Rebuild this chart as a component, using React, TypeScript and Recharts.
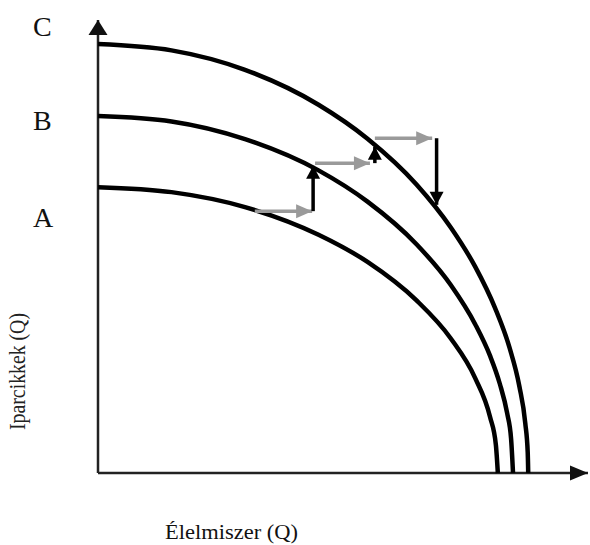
import React from 'react';
import { ComposedChart, Line, XAxis, YAxis } from 'recharts';

// Transformation curves (x = food, y = manufactured goods)
const curveA = [
  { x: 0, y: 63.1 }, { x: 15, y: 62.0 }, { x: 30, y: 58.7 }, { x: 45, y: 52.6 },
  { x: 55, y: 46.6 }, { x: 65, y: 38.1 }, { x: 72, y: 29.7 }, { x: 77, y: 20.9 },
  { x: 80, y: 12.4 }, { x: 81.2, y: 6.2 }, { x: 81.6, y: 0 },
];
const curveB = [
  { x: 0, y: 78.8 }, { x: 15, y: 77.6 }, { x: 30, y: 73.7 }, { x: 45, y: 66.8 },
  { x: 55, y: 59.9 }, { x: 65, y: 50.5 }, { x: 72, y: 41.5 }, { x: 77, y: 32.8 },
  { x: 80, y: 25.9 }, { x: 82, y: 19.7 }, { x: 83.5, y: 13.2 }, { x: 84.3, y: 7.6 },
  { x: 84.7, y: 0 },
];
const curveC = [
  { x: 0, y: 94.7 }, { x: 15, y: 93.3 }, { x: 30, y: 89.0 }, { x: 45, y: 81.3 },
  { x: 55, y: 73.8 }, { x: 65, y: 63.7 }, { x: 72, y: 54.2 }, { x: 77, y: 45.5 },
  { x: 81, y: 36.5 }, { x: 84, y: 27.6 }, { x: 86, y: 19.1 }, { x: 87.2, y: 11.0 },
  { x: 87.7, y: 4.5 }, { x: 87.8, y: 0 },
];

// axes
const xAxisLine = [{ x: 0, y: 0 }, { x: 100, y: 0 }];
const yAxisLine = [{ x: 0, y: 0 }, { x: 0, y: 100 }];

// steps between the curves: gray = horizontal, black = vertical
const grayArrows = [
  [{ x: 32.0, y: 57.8 }, { x: 43.7, y: 57.8 }],
  [{ x: 44.3, y: 68.4 }, { x: 55.5, y: 68.4 }],
  [{ x: 56.5, y: 73.9 }, { x: 68.2, y: 73.9 }],
];
const blackArrows = [
  [{ x: 43.9, y: 57.8 }, { x: 43.9, y: 67.8 }],
  [{ x: 56.5, y: 68.4 }, { x: 56.5, y: 72.0 }],
  [{ x: 69.1, y: 73.9 }, { x: 69.1, y: 59.2 }],
];

const curveLabels = ['C', 'B', 'A'];

const serif = '"Liberation Serif", "Times New Roman", serif';

type Pt = { x: number; y: number };

const direction = (pts: Pt[]) => {
  const [a, b] = pts;
  if (b.x > a.x) return 'right';
  return b.y > a.y ? 'up' : 'down';
};

const headPath = (dir: string, cx: number, cy: number, len: number, w: number) => {
  const h = w / 2;
  if (dir === 'right') return `M${cx},${cy} L${cx - len},${cy - h} L${cx - len},${cy + h} Z`;
  if (dir === 'up') return `M${cx},${cy} L${cx - h},${cy + len} L${cx + h},${cy + len} Z`;
  return `M${cx},${cy} L${cx - h},${cy - len} L${cx + h},${cy - len} Z`;
};

const arrowDot = (dir: string, color: string, len: number, w: number) => (props: any) => {
  const { cx, cy, index } = props;
  if (index !== 1) return <g key={`n-${index}`} />;
  return <path key={`h-${index}`} d={headPath(dir, cx, cy, len, w)} fill={color} />;
};

export default function App() {
  return (
    <div style={{ position: 'absolute', left: 0, top: 0, width: 590, height: 545, background: '#fff' }}>
      <ComposedChart width={590} height={545} margin={{ top: 20, right: 2, bottom: 72, left: 98 }}>
        <XAxis type="number" dataKey="x" domain={[0, 100]} hide />
        <YAxis type="number" dataKey="y" domain={[0, 100]} hide />

        <Line data={xAxisLine} dataKey="y" type="linear" stroke="#222" strokeWidth={2.5}
          dot={arrowDot('right', '#111', 18, 15)} activeDot={false} isAnimationActive={false} />
        <Line data={yAxisLine} dataKey="y" type="linear" stroke="#222" strokeWidth={2.5}
          dot={arrowDot('up', '#111', 15, 19)} activeDot={false} isAnimationActive={false} />

        {[curveA, curveB, curveC].map((c, i) => (
          <Line key={`c${i}`} data={c} dataKey="y" type="monotone" stroke="#000" strokeWidth={4.5}
            dot={false} activeDot={false} isAnimationActive={false} />
        ))}

        {grayArrows.map((a, i) => (
          <Line key={`g${i}`} data={a} dataKey="y" type="linear" stroke="#9a9a9a" strokeWidth={3.5}
            dot={arrowDot(direction(a), '#9a9a9a', 16, 14)} activeDot={false} isAnimationActive={false} />
        ))}
        {blackArrows.map((a, i) => (
          <Line key={`b${i}`} data={a} dataKey="y" type="linear" stroke="#000" strokeWidth={3.5}
            dot={arrowDot(direction(a), '#000', 13, 14)} activeDot={false} isAnimationActive={false} />
        ))}
      </ComposedChart>

      <svg width={590} height={545} style={{ position: 'absolute', left: 0, top: 0, pointerEvents: 'none' }}>
        {curveLabels.map((t, i) => (
          <text key={t} x={33} y={[36, 130, 227][i]} fontFamily={serif} fontSize={28} fill="#111">{t}</text>
        ))}
        <text x={25} y={371.5} transform="rotate(-90 25 371.5)" textAnchor="middle" fontFamily={serif}
          fontSize={23} textLength={117} lengthAdjust="spacingAndGlyphs" fill="#222">Iparcikkek (Q)</text>
        <text x={165} y={539} fontFamily={serif} fontSize={20} textLength={133}
          lengthAdjust="spacingAndGlyphs" fill="#111">Élelmiszer (Q)</text>
      </svg>
    </div>
  );
}
